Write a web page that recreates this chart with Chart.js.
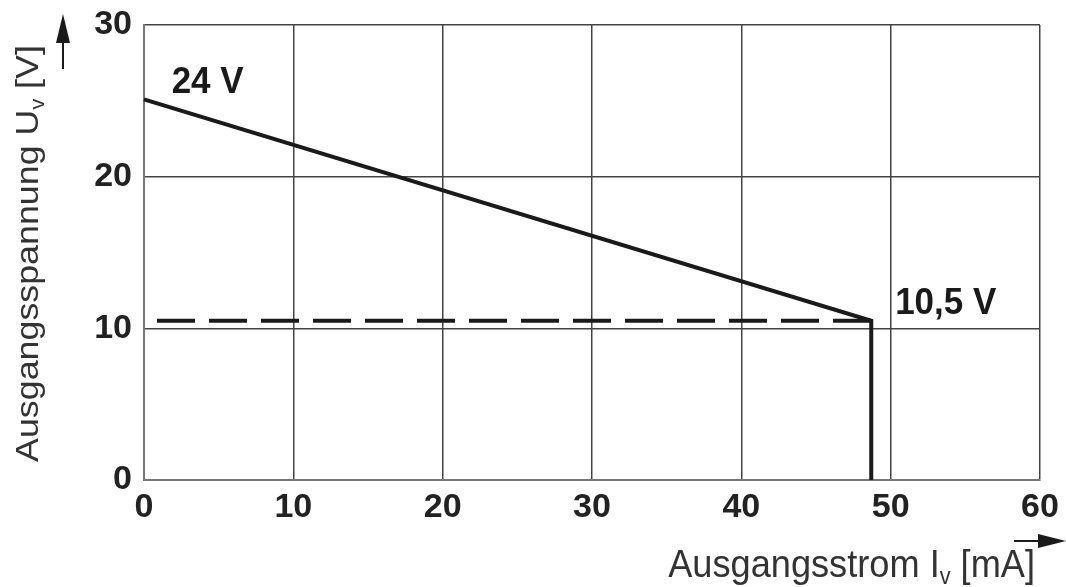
<!DOCTYPE html>
<html>
<head>
<meta charset="utf-8">
<script src="https://cdn.jsdelivr.net/npm/chart.js@4/dist/chart.umd.min.js"></script>
<style>
html,body{margin:0;padding:0;background:#fff;}
#wrap{width:1066px;height:587px;position:relative;}
</style>
</head>
<body>
<div id="wrap"><canvas id="c"></canvas></div>
<script>
// ---- data ----
const currentMA = [0, 48.7, 48.7];
const voltageV = [25.1, 10.5, 0];
const limitCurrentMA = [0, 48.7];
const limitVoltageV = [10.5, 10.5];
const xTicks = [0, 10, 20, 30, 40, 50, 60];
const yTicks = [0, 10, 20, 30];
const noteTexts = ['24 V', '10,5 V'];
const noteX = [1.85, 50.3];
const noteY = [26.2, 11.6];
const xTitleParts = ['Ausgangsstrom I', 'v', ' [mA]'];
const yTitleParts = ['Ausgangsspannung U', 'v', ' [V]'];

const FONT = '"Liberation Sans", Arial, Helvetica, sans-serif';

function pts(xs, ys){ return xs.map((x,i)=>({x:x, y:ys[i]})); }

function partsWidth(ctx, parts, size){
  const sub = size*0.6;
  ctx.font = size + 'px ' + FONT;
  let w = ctx.measureText(parts[0]).width + ctx.measureText(parts[2]).width;
  ctx.font = sub + 'px ' + FONT;
  w += ctx.measureText(parts[1]).width;
  return w;
}
function drawParts(ctx, parts, size, x, y){
  const sub = size*0.6;
  let cx = x;
  ctx.font = size + 'px ' + FONT;
  ctx.fillText(parts[0], cx, y); cx += ctx.measureText(parts[0]).width;
  ctx.font = sub + 'px ' + FONT;
  ctx.fillText(parts[1], cx, y + size*0.18); cx += ctx.measureText(parts[1]).width;
  ctx.font = size + 'px ' + FONT;
  ctx.fillText(parts[2], cx, y);
}
function fitSize(ctx, parts, target){
  return 100*target/partsWidth(ctx, parts, 100);
}

const decor = {
  id: 'decor',
  afterDraw(chart){
    const ctx = chart.ctx;
    const xs = chart.scales.x, ys = chart.scales.y;
    ctx.save();
    // notes
    ctx.fillStyle = '#1a1a1a';
    ctx.font = 'bold 35px ' + FONT;
    ctx.textBaseline = 'middle';
    ctx.textAlign = 'left';
    noteTexts.forEach((t,i)=>{
      ctx.save();
      ctx.translate(xs.getPixelForValue(noteX[i]), ys.getPixelForValue(noteY[i]));
      ctx.scale(1, 1.05);
      ctx.fillText(t, 0, 0);
      ctx.restore();
    });
    // x title
    ctx.fillStyle = '#333';
    ctx.textBaseline = 'alphabetic';
    const s1 = fitSize(ctx, xTitleParts, 367);
    const w1 = partsWidth(ctx, xTitleParts, s1);
    ctx.save();
    ctx.translate(1035 - w1, 577);
    ctx.scale(1, 1.08);
    drawParts(ctx, xTitleParts, s1, 0, 0);
    ctx.restore();
    // y title
    ctx.save();
    ctx.translate(38, 462);
    ctx.rotate(-Math.PI/2);
    ctx.scale(1, 0.9);
    const s2 = fitSize(ctx, yTitleParts, 417);
    drawParts(ctx, yTitleParts, s2, 0, 0);
    ctx.restore();
    // arrows
    ctx.strokeStyle = '#1a1a1a';
    ctx.fillStyle = '#1a1a1a';
    ctx.lineWidth = 2;
    ctx.beginPath(); ctx.moveTo(63, 69); ctx.lineTo(63, 40); ctx.stroke();
    ctx.beginPath(); ctx.moveTo(63, 14); ctx.lineTo(56, 43); ctx.lineTo(70, 43); ctx.closePath(); ctx.fill();
    ctx.beginPath(); ctx.moveTo(1014, 541); ctx.lineTo(1040, 541); ctx.stroke();
    ctx.beginPath(); ctx.moveTo(1066, 541); ctx.lineTo(1038, 534); ctx.lineTo(1038, 548); ctx.closePath(); ctx.fill();
    ctx.restore();
  }
};

function noPad(s){ s.paddingTop = 0; s.paddingBottom = 0; s.paddingLeft = 0; s.paddingRight = 0; }

new Chart(document.getElementById('c'), {
  type: 'scatter',
  data: {
    datasets: [
      {
        data: pts(limitCurrentMA, limitVoltageV),
        showLine: true,
        borderColor: '#1a1a1a',
        borderWidth: 4,
        borderDash: [38, 14],
        borderDashOffset: 39,
        pointRadius: 0,
        clip: false
      },
      {
        data: pts(currentMA, voltageV),
        showLine: true,
        borderColor: '#1a1a1a',
        borderWidth: 4,
        pointRadius: 0,
        borderJoinStyle: 'miter',
        clip: false
      }
    ]
  },
  options: {
    responsive: true,
    maintainAspectRatio: false,
    animation: false,
    devicePixelRatio: 1,
    layout: { padding: { top: 25, right: 26, left: 0, bottom: 0 } },
    plugins: { legend: { display: false }, tooltip: { enabled: false }, title: { display: false } },
    scales: {
      x: {
        type: 'linear', min: 0, max: 60,
        afterBuildTicks(s){ s.ticks = xTicks.map(v=>({value:v})); },
        afterFit(s){ s.height = 107; noPad(s); },
        grid: { color: '#444', lineWidth: 1.5, drawTicks: false },
        border: { display: true, color: '#777', width: 2 },
        ticks: { color: '#222', font: { family: FONT, size: 34, weight: 'bold' }, padding: 7, maxRotation: 0 }
      },
      y: {
        type: 'linear', min: 0, max: 30,
        afterBuildTicks(s){ s.ticks = yTicks.map(v=>({value:v})); },
        afterFit(s){ s.width = 144; noPad(s); },
        grid: { color: '#444', lineWidth: 1.5, drawTicks: false },
        border: { display: true, color: '#777', width: 2 },
        ticks: { color: '#222', font: { family: FONT, size: 34, weight: 'bold' }, padding: 12 }
      }
    }
  },
  plugins: [decor]
});
</script>
</body>
</html>
